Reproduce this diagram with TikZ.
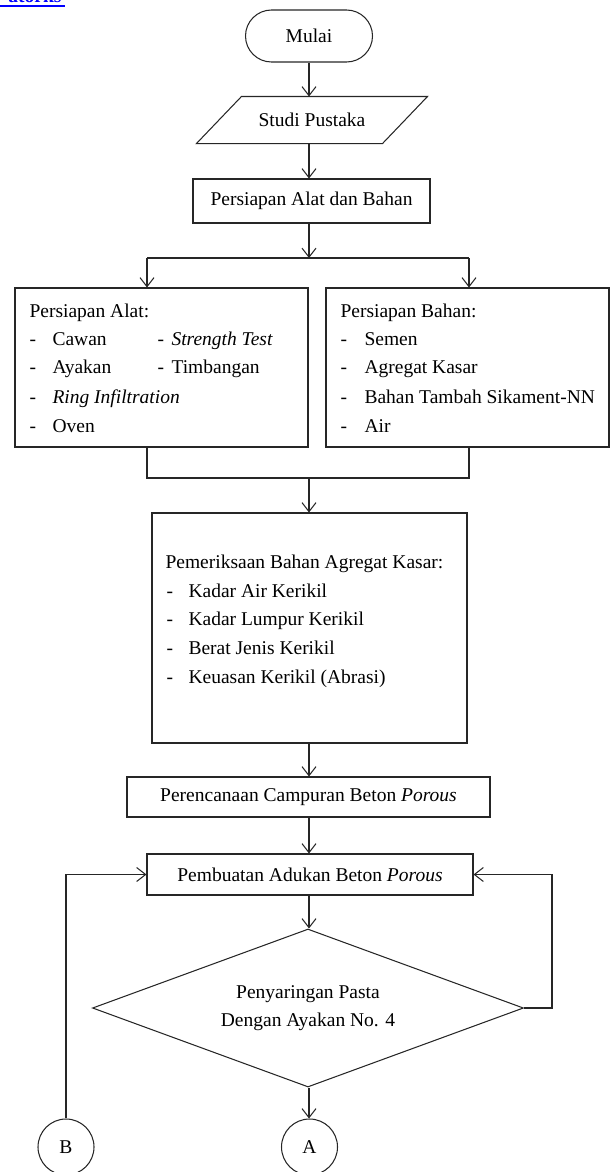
\documentclass[tikz,border=0pt]{standalone}
\usepackage{fontspec}
\setmainfont{Liberation Serif}
\usetikzlibrary{arrows.meta,shapes.geometric,calc}
\begin{document}
\begin{tikzpicture}[x=1pt,y=-1pt,
  line width=1.05pt, draw=black!85,
  every node/.style={font=\fontsize{19.5}{28}\selectfont, inner sep=0pt, text=black},
  box/.style={draw, rectangle},
  term/.style={draw, rectangle, rounded corners=26pt},
  conn/.style={draw, circle, minimum size=56pt},
  arr/.style={-{Straight Barb[length=9pt,width=14pt]}},
  txt/.style={anchor=base west}]
\useasboundingbox (0,0) rectangle (610,1172);

% clipped link text at the top left
\node[anchor=base east, text=blue, font=\bfseries\fontsize{19.5}{28}\selectfont] (link) at (62,2.5) {atorks};
\draw[blue, line width=1.7pt] (0,5.8) -- (65,5.8);

% main column
\node[term, minimum width=127pt, minimum height=52pt] (mulai) at (309,36) {Mulai};
\node[minimum width=185pt, minimum height=46pt] (stu) at (312,120) {Studi Pustaka};
\draw ([xshift=22.5pt]stu.north west) -- ([xshift=22.5pt]stu.north east)
   -- ([xshift=-22.5pt]stu.south east) -- ([xshift=-22.5pt]stu.south west) -- cycle;
\node[box, minimum width=237pt, minimum height=44pt] (pab) at (311.5,201) {Persiapan Alat dan Bahan};

\node[box, minimum width=293pt, minimum height=159pt] (alat) at (161.5,367.5) {};
\node[box, minimum width=283pt, minimum height=159pt] (bahan) at (467.5,367.5) {};

\node[box, minimum width=315pt, minimum height=230pt] (pem) at (309.5,628) {};
\node[box, minimum width=363pt, minimum height=40pt] (per) at (308.5,797) {Perencanaan Campuran Beton \textit{Porous}};
\node[box, minimum width=326pt, minimum height=41pt] (pbt) at (310,874.5) {Pembuatan Adukan Beton \textit{Porous}};
\node[draw, diamond, aspect=2.73, minimum width=431pt, minimum height=158pt, align=center] (dia) at (308,1008) {Penyaringan Pasta\\Dengan Ayakan No. 4};
\node[conn] (B) at (66,1147) {B};
\node[conn] (A) at (309.5,1147) {A};

% texts of the left box
\node[txt] (a0) at (29,317) {Persiapan Alat:};
\node[txt] (a1d) at (29,345) {-};
\node[txt] (a1) at (52,345) {Cawan};
\node[txt] (a2d) at (157,345) {-};
\node[txt] (a2) at (171,345) {\textit{Strength Test}};
\node[txt] (a3d) at (29,373) {-};
\node[txt] (a3) at (52,373) {Ayakan};
\node[txt] (a4d) at (157,373) {-};
\node[txt] (a4) at (171,373) {Timbangan};
\node[txt] (a5d) at (29,403) {-};
\node[txt] (a5) at (52,403) {\textit{Ring Infiltration}};
\node[txt] (a6d) at (29,432) {-};
\node[txt] (a6) at (52,432) {Oven};

% texts of the right box
\node[txt] (b0) at (340,317) {Persiapan Bahan:};
\node[txt] (b1d) at (340,345) {-};
\node[txt] (b1) at (364,345) {Semen};
\node[txt] (b2d) at (340,373) {-};
\node[txt] (b2) at (364,373) {Agregat Kasar};
\node[txt] (b3d) at (340,403) {-};
\node[txt] (b3) at (364,403) {Bahan Tambah Sikament-NN};
\node[txt] (b4d) at (340,432) {-};
\node[txt] (b4) at (364,432) {Air};

% texts of the examination box
\node[txt] (p0) at (165,568) {Pemeriksaan Bahan Agregat Kasar:};
\node[txt] (p1d) at (166,597) {-};
\node[txt] (p1) at (188,597) {Kadar Air Kerikil};
\node[txt] (p2d) at (166,625) {-};
\node[txt] (p2) at (188,625) {Kadar Lumpur Kerikil};
\node[txt] (p3d) at (166,654) {-};
\node[txt] (p3) at (188,654) {Berat Jenis Kerikil};
\node[txt] (p4d) at (166,683) {-};
\node[txt] (p4) at (188,683) {Keuasan Kerikil (Abrasi)};

% connectors
\coordinate (col) at (309,0);
\coordinate (split) at (309,258);
\coordinate (sl) at (147,258);
\coordinate (sr) at (469,258);
\coordinate (jl) at (147,478);
\coordinate (jr) at (469,478);
\coordinate (jm) at (309,478);
\coordinate (rl) at (552,0);

\draw[arr] (mulai.south) -- (mulai.south |- stu.north);
\draw[arr] (stu.south -| col) -- (pab.north -| col);
\draw[arr] (pab.south -| col) -- (split);
\draw (sl) -- (sr);
\draw[arr] (sl) -- (sl |- alat.north);
\draw[arr] (sr) -- (sr |- bahan.north);
\draw (sl |- alat.south) -- (jl) -- (jr) -- (sr |- bahan.south);
\draw[arr] (jm) -- (jm |- pem.north);
\draw[arr] (pem.south -| col) -- (per.north -| col);
\draw[arr] (per.south -| col) -- (pbt.north -| col);
\draw[arr] (pbt.south -| col) -- (dia.north -| col);
\draw[arr] (dia.east) -- (dia.east -| rl) |- (pbt.east);
\draw[arr] (B.north) |- (pbt.west);
\draw[arr] (dia.south -| col) -- (A.north -| col);
\end{tikzpicture}
\end{document}
